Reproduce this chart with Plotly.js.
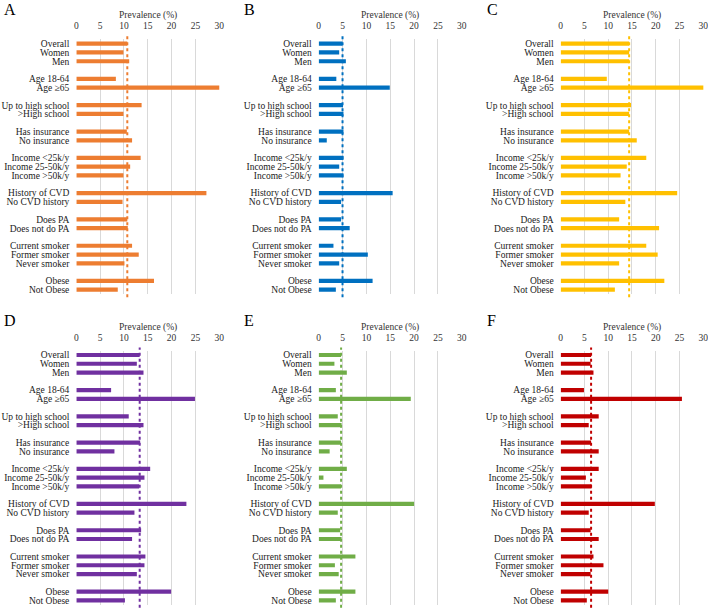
<!DOCTYPE html>
<html>
<head>
<meta charset="utf-8">
<script src="https://cdn.plot.ly/plotly-3.0.1.min.js"></script>
<style>html,body{margin:0;padding:0;background:#fff;}#chart{width:708px;height:610px;}</style>
</head>
<body>
<div id="chart"></div>
<script>
const categories = ["Overall","Women","Men","Age 18-64","Age \u226565","Up to high school",">High school",
  "Has insurance","No insurance","Income <25k/y","Income 25-50k/y","Income >50k/y",
  "History of CVD","No CVD history","Does PA","Does not do PA",
  "Current smoker","Former smoker","Never smoker","Obese","Not Obese"];
const groupSizes = [3,2,2,2,3,2,2,3,2];
const panelLabels = ["A","B","C","D","E","F"];
const xTicks = [0,5,10,15,20,25,30];

const valuesA = [10.7,9.9,11.1,8.3,30.2,13.7,9.9,10.6,11.7,13.5,11.3,9.9,27.3,9.7,10.7,10.8,11.7,13.1,10.1,16.3,8.7];
const valuesB = [5.0,4.3,5.7,3.7,14.9,5.1,5.2,5.2,1.7,5.2,4.3,5.2,15.5,4.7,4.7,6.5,3.1,10.3,4.3,11.3,3.6];
const valuesC = [14.4,14.4,14.4,9.7,30.2,14.8,14.4,14.4,16.0,18.0,13.9,12.6,24.5,13.6,12.3,20.7,18.0,20.4,12.3,21.8,11.4];
const valuesD = [13.3,12.7,14.1,7.3,24.9,11.0,14.1,13.4,8.0,15.5,14.3,13.2,23.1,12.2,13.6,11.7,14.5,14.3,12.7,19.9,10.2];
const valuesE = [4.7,3.3,5.9,3.6,19.3,4.0,4.8,4.7,2.3,5.9,1.0,4.7,20.0,4.0,4.5,4.8,7.7,3.4,4.2,7.7,3.6];
const valuesF = [6.4,6.3,6.9,4.9,25.5,8.0,5.9,6.4,8.0,8.0,5.3,6.5,19.8,5.9,6.3,8.0,6.9,9.0,6.3,10.0,5.5];
const panelValues = [valuesA,valuesB,valuesC,valuesD,valuesE,valuesF];
const panelColors = ["#ED7D31","#0070C0","#FFC000","#7030A0","#70AD47","#C00000"];

const FONT = 'Liberation Serif, Times New Roman, serif';
const xDomains = [[0.1078,0.3097],[0.4501,0.6523],[0.7919,0.9934]];
const yDomains = [[0.5179,0.9356],[0.0087,0.4252]];

// build category order with spacer rows between groups
const yOrder = [];
const catIndex = [];
let k = 0;
groupSizes.forEach((n, g) => {
  for (let i = 0; i < n; i++) { yOrder.push(categories[k]); catIndex.push(k); k++; }
  if (g < groupSizes.length - 1) { yOrder.push(' '.repeat(g + 1)); catIndex.push(-1); }
});

const traces = [];
const layout = {
  width: 708, height: 610,
  margin: {l:0, r:0, t:0, b:0},
  paper_bgcolor: '#fff', plot_bgcolor: '#fff',
  showlegend: false,
  bargap: 0.52,
  font: {family: FONT, size: 9.5, color: '#262626'},
  shapes: [], annotations: []
};

panelValues.forEach((vals, p) => {
  const row = Math.floor(p / 3), col = p % 3;
  const sfx = p === 0 ? '' : String(p + 1);
  const xa = 'x' + sfx, ya = 'y' + sfx;
  traces.push({
    type: 'bar', orientation: 'h',
    x: catIndex.map(i => i < 0 ? null : vals[i]),
    y: yOrder,
    xaxis: xa, yaxis: ya,
    marker: {color: panelColors[p]},
    hoverinfo: 'x+y'
  });
  layout['xaxis' + sfx] = {
    domain: xDomains[col], anchor: ya, side: 'top',
    range: [0, 30], tickmode: 'array', tickvals: xTicks, ticktext: xTicks.map(String),
    showgrid: true, gridcolor: '#d9d9d9', gridwidth: 1,
    zeroline: false, showline: false, ticks: '',
    ticklabeloverflow: 'allow', ticklabelstandoff: 7,
    tickfont: {family: FONT, size: 9.5, color: '#333333'},
    fixedrange: true
  };
  layout['yaxis' + sfx] = {
    domain: yDomains[row], anchor: xa,
    type: 'category', categoryorder: 'array', categoryarray: yOrder,
    tickmode: 'array', tickvals: yOrder, ticktext: yOrder,
    range: [yOrder.length - 0.5, -0.5],
    showgrid: false, zeroline: false, showline: false, ticks: '',
    ticklabelstandoff: 6,
    tickfont: {family: FONT, size: 9.5, color: '#1a1a1a'},
    fixedrange: true
  };
  layout.shapes.push({
    type: 'line', xref: xa, yref: ya + ' domain',
    x0: vals[0], x1: vals[0], y0: -0.012, y1: 1.012,
    line: {color: panelColors[p], width: 2, dash: 'dot'}
  });
  const xmid = (xDomains[col][0] + xDomains[col][1]) / 2;
  layout.annotations.push({
    text: 'Prevalence (%)', xref: 'paper', yref: 'paper',
    x: xmid, y: yDomains[row][1], yshift: 23.5,
    xanchor: 'center', yanchor: 'middle', showarrow: false,
    font: {family: FONT, size: 9.5, color: '#333333'}
  });
  const letterX = [2, 242, 485][col];
  const letterY = [9, 320][row];
  layout.annotations.push({
    text: panelLabels[p], xref: 'paper', yref: 'paper',
    x: letterX / 708, y: 1 - letterY / 610,
    xanchor: 'left', yanchor: 'middle', showarrow: false,
    font: {family: FONT, size: 16, color: '#000'}
  });
});

Plotly.newPlot('chart', traces, layout, {displayModeBar: false, staticPlot: true});
</script>
</body>
</html>
